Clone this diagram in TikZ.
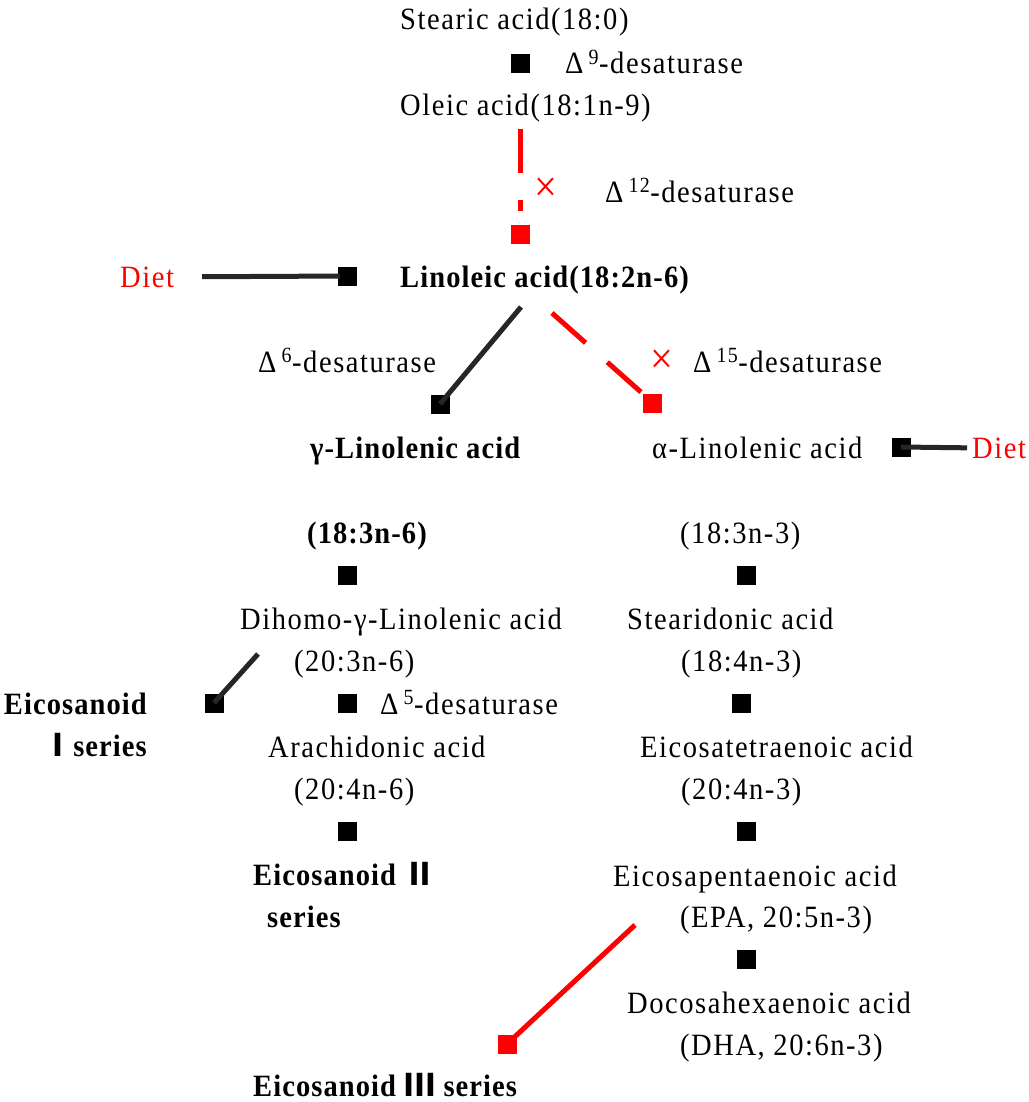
\documentclass[tikz,border=0pt]{standalone}
\usepackage{fontspec}
\setmainfont{Liberation Serif}[LetterSpace=5, FakeStretch=0.92, BoldFeatures={LetterSpace=3.5}]
\newfontfamily\numfont{Noto Sans CJK SC}
\usepackage{tikz}

\begin{document}
\begin{tikzpicture}[x=1pt, y=-1pt,
    txt/.style={anchor=base west, inner sep=0pt, font=\fontsize{31}{36}\selectfont},
    btxt/.style={txt, font=\fontsize{31}{36}\selectfont\bfseries},
    rtxt/.style={txt, text=red},
    cross/.style={inner sep=0pt, text=red, font=\fontsize{44}{44}\selectfont},
    sq/.style={fill=black, inner sep=0pt, minimum size=19pt},
    rsq/.style={sq, fill=red},
    bline/.style={line width=5pt, draw=black!85},
    rline/.style={line width=5pt, draw=red}]
    \useasboundingbox (0,0) rectangle (1028,1102);
    \node[txt] (stear) at (400,30) {Stearic acid(18:0)};
    \node[sq] (sq9) at (520,64) {};
    \node[txt] (d9) at (565,74) {Δ\,\textsuperscript{9}-desaturase};
    \node[txt] (ole) at (400,116) {Oleic acid(18:1n-9)};
    \node[cross] (x12) at (546,190) {×};
    \node[txt] (d12) at (605,202) {Δ\,\textsuperscript{12}-desaturase};
    \node[rsq] (rsq12) at (520,234) {};
    \node[rtxt] (diet1) at (120,287) {Diet};
    \node[sq] (sqd1) at (347,276) {};
    \node[btxt] (lin) at (400,287) {Linoleic acid(18:2n-6)};
    \node[txt] (d6) at (258,372) {Δ\,\textsuperscript{6}-desaturase};
    \node[sq] (sq6) at (440,404) {};
    \node[cross] (x15) at (662,362) {×};
    \node[txt] (d15) at (693,372) {Δ\,\textsuperscript{15}-desaturase};
    \node[rsq] (rsq15) at (652,403) {};
    \node[btxt] (gla) at (310,458) {γ-Linolenic acid};
    \node[txt] (ala) at (652,458) {α-Linolenic acid};
    \node[sq] (sqd2) at (901,447) {};
    \node[rtxt] (diet2) at (972,458) {Diet};
    \node[btxt] (gla2) at (307,543) {(18:3n-6)};
    \node[txt] (ala2) at (680,543) {(18:3n-3)};
    \node[sq] (sqg) at (347,575) {};
    \node[sq] (sqa) at (746,575) {};
    \node[txt] (dgla) at (240,629) {Dihomo-γ-Linolenic acid};
    \node[txt] (sda) at (627,629) {Stearidonic acid};
    \node[txt] (dgla2) at (294,671) {(20:3n-6)};
    \node[txt] (sda2) at (681,671) {(18:4n-3)};
    \node[btxt, anchor=base east] (eico1a) at (147,714) {Eicosanoid};
    \node[btxt, anchor=base east] (eico1b) at (147,756) {{\numfont Ⅰ}series};
    \node[sq] (sqe1) at (214,703) {};
    \node[sq] (sq5) at (347,703) {};
    \node[txt] (d5) at (380,714) {Δ\,\textsuperscript{5}-desaturase};
    \node[sq] (sqs) at (741,703) {};
    \node[txt] (ara) at (268,757) {Arachidonic acid};
    \node[txt] (eta) at (640,757) {Eicosatetraenoic acid};
    \node[txt] (ara2) at (294,799) {(20:4n-6)};
    \node[txt] (eta2) at (681,799) {(20:4n-3)};
    \node[sq] (sqar) at (347,831) {};
    \node[sq] (sqet) at (746,831) {};
    \node[btxt] (eico2a) at (253,885) {Eicosanoid {\numfont Ⅱ}};
    \node[btxt] (eico2b) at (267,927) {series};
    \node[txt] (epa) at (613,886) {Eicosapentaenoic acid};
    \node[txt] (epa2) at (680,927) {(EPA, 20:5n-3)};
    \node[sq] (sqep) at (746,959) {};
    \node[txt] (dha) at (627,1013) {Docosahexaenoic acid};
    \node[txt] (dha2) at (680,1055) {(DHA, 20:6n-3)};
    \node[rsq] (rsq3) at (507,1044) {};
    \node[btxt] (eico3) at (253,1096) {Eicosanoid {\numfont Ⅲ} series};
    \coordinate (ole-a) at (520,129);
    \coordinate (lin-a) at (521,307);
    \coordinate (lin-b) at (552,313);
    \coordinate (dgla-a) at (258,654);
    \coordinate (epa-a) at (635,925);
    \draw[rline, dash pattern=on 44pt off 27pt, shorten >=13pt] (ole-a) -- (rsq12.north);
    \draw[bline, shorten <=28pt, shorten >=7pt] (diet1.east) -- (sqd1.center);
    \draw[bline] (lin-a) -- (sq6.center);
    \draw[rline, dash pattern=on 45pt off 29pt] (lin-b) -- (rsq15.north west);
    \draw[bline, shorten >=5pt] (sqd2.center) -- (diet2.west);
    \draw[bline] (dgla-a) -- (sqe1.center);
    \draw[rline] (epa-a) -- (rsq3.center);
\end{tikzpicture}
\end{document}
